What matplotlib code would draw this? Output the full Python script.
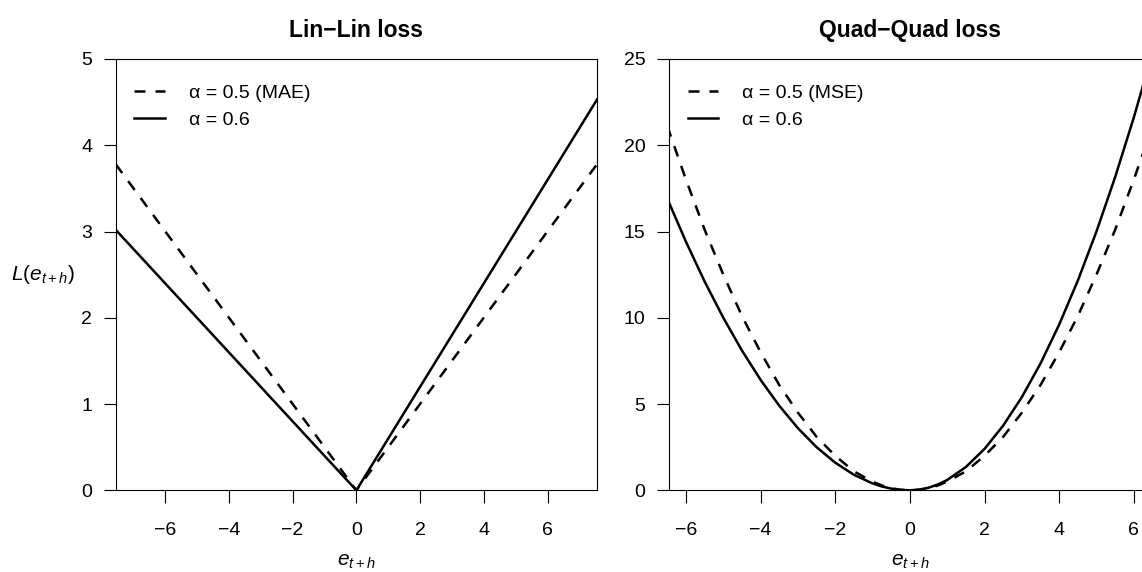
import matplotlib
matplotlib.use("Agg")
import matplotlib.pyplot as plt
from matplotlib.lines import Line2D

plt.rcParams["font.family"] = ["Liberation Sans", "DejaVu Sans"]
plt.rcParams["mathtext.fontset"] = "custom"
plt.rcParams["mathtext.rm"] = "Liberation Sans"
plt.rcParams["mathtext.it"] = "Liberation Sans:italic"
plt.rcParams["mathtext.bf"] = "Liberation Sans:bold"

# Lin-Lin loss
lin_x = [-7.55, 0, 7.55]
lin_mae = [3.78, 0, 3.78]
lin_a06 = [3.02, 0, 4.53]
lin_labels = ["α = 0.5 (MAE)", "α = 0.6"]

# Quad-Quad loss
quad_x = [-6.5, -6.0, -5.5, -5.0, -4.5, -4.0, -3.5, -3.0, -2.5, -2.0, -1.5, -1.0, -0.75, -0.5, -0.25,
          0.0, 0.25, 0.5, 0.75, 1.0, 1.5, 2.0, 2.5, 3.0, 3.5, 4.0, 4.5, 5.0, 5.5, 6.0, 6.5]
quad_mse = [21.1, 18.0, 15.1, 12.5, 10.1, 8.0, 6.1, 4.5, 3.1, 2.0, 1.1, 0.5, 0.28, 0.12, 0.03,
            0.0, 0.03, 0.12, 0.28, 0.5, 1.1, 2.0, 3.1, 4.5, 6.1, 8.0, 10.1, 12.5, 15.1, 18.0, 21.1]
quad_a06 = [16.9, 14.4, 12.1, 10.0, 8.1, 6.4, 4.9, 3.6, 2.5, 1.6, 0.9, 0.4, 0.22, 0.1, 0.025,
            0.0, 0.04, 0.15, 0.34, 0.6, 1.35, 2.4, 3.75, 5.4, 7.35, 9.6, 12.15, 15.0, 18.15, 21.6, 25.35]
quad_labels = ["α = 0.5 (MSE)", "α = 0.6"]

dash = (4.4, 4.0)
lw = 1.8

fig = plt.figure(figsize=(11.42, 5.72), dpi=100)
ax1 = fig.add_axes([0.1013, 0.1428, 0.4215, 0.7541])
ax2 = fig.add_axes([0.586, 0.1428, 0.4215, 0.7541])


def style(ax, title):
    ax.set_title(title, fontsize=16.5, fontweight="bold", pad=16)
    ax.tick_params(direction="out", length=9, width=0.8, labelsize=14)
    ax.tick_params(axis="x", pad=14)
    ax.tick_params(axis="y", pad=8)
    for s in ax.spines.values():
        s.set_linewidth(0.8)
    ax.set_xticks([-6, -4, -2, 0, 2, 4, 6])
    ax.set_xlabel(r"$e_{t+h}$", fontsize=15, labelpad=9)


ax1.plot(lin_x, lin_mae, color="black", lw=lw, dashes=dash)
ax1.plot(lin_x, lin_a06, color="black", lw=lw)
ax1.set_xlim(-7.55, 7.55)
ax1.set_ylim(0, 5)
ax1.set_yticks([0, 1, 2, 3, 4, 5])
style(ax1, "Lin\u2212Lin loss")
ax1.set_ylabel(r"$L(e_{t+h})$", fontsize=15, rotation=0, va="center")
ax1.yaxis.set_label_coords(-0.152, 0.5)

ax2.plot(quad_x, quad_mse, color="black", lw=lw, dashes=dash)
ax2.plot(quad_x, quad_a06, color="black", lw=lw)
ax2.set_xlim(-6.45, 6.45)
ax2.set_ylim(0, 25)
ax2.set_yticks([0, 5, 10, 15, 20, 25])
style(ax2, "Quad\u2212Quad loss")

for ax, labels in [(ax1, lin_labels), (ax2, quad_labels)]:
    handles = [Line2D([], [], color="black", lw=lw, dashes=dash),
               Line2D([], [], color="black", lw=lw)]
    ax.legend(handles, labels, loc="upper left", frameon=False, fontsize=14,
              handlelength=1.57, handletextpad=1.24, labelspacing=0.45,
              borderaxespad=0.3, bbox_to_anchor=(0.01, 0.972))

fig.savefig("out.png", dpi=100)
